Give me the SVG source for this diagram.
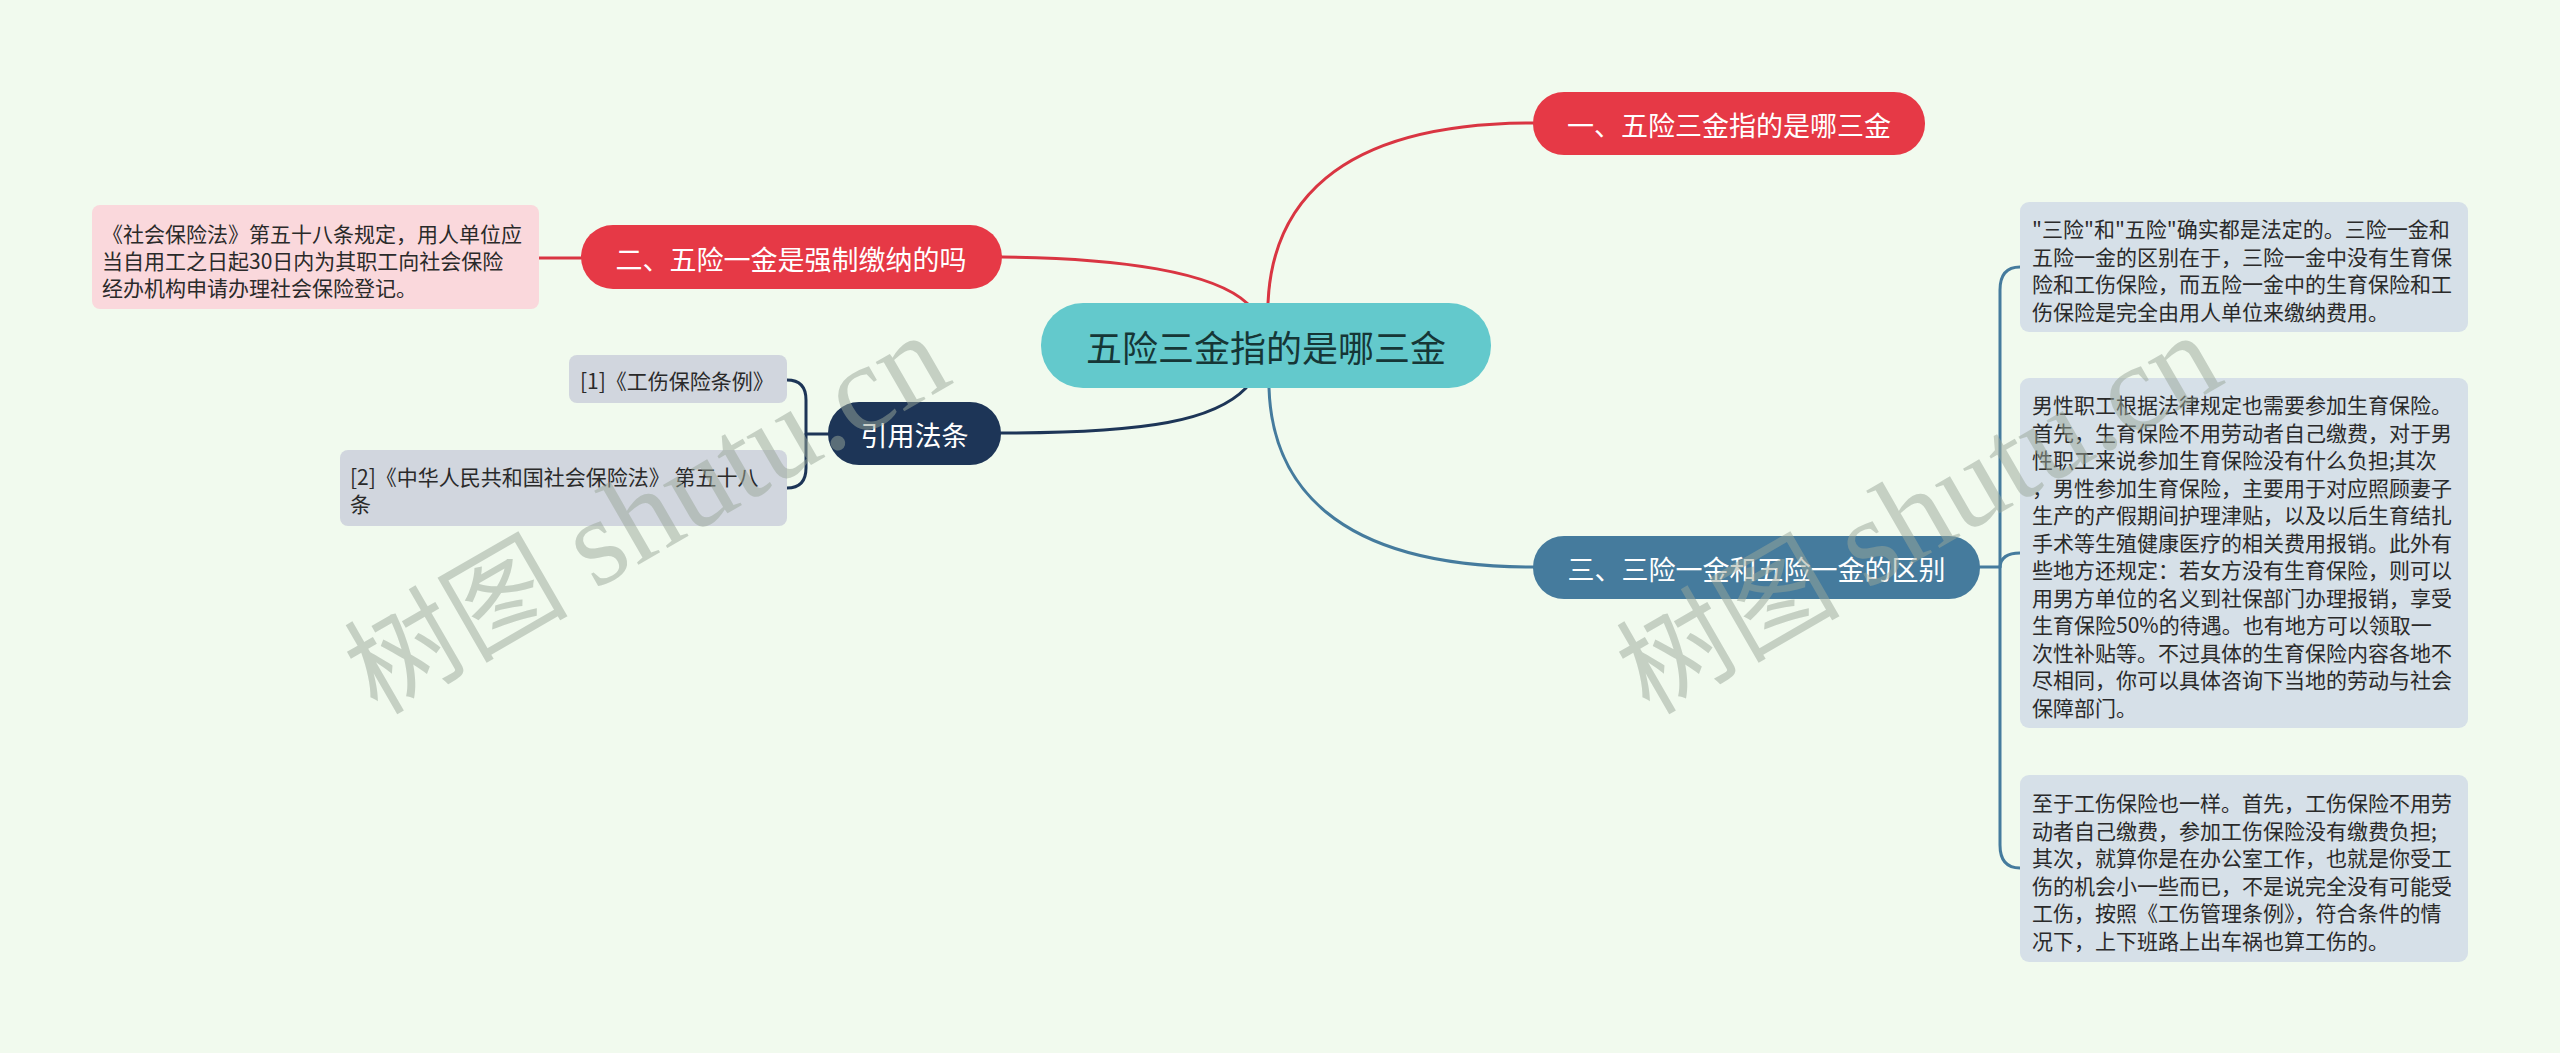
<svg xmlns="http://www.w3.org/2000/svg" width="2560" height="1053" viewBox="0 0 2560 1053">
<style>
text{font-family:"Noto Sans CJK SC","Noto Sans",sans-serif}
.ntxt{fill:#ffffff;font-size:27px;text-anchor:middle;dominant-baseline:central}
.leaf{font-size:21px;fill:#2a2a2a;dominant-baseline:central}
.conn{fill:none;stroke-width:3;stroke-linecap:round}
.red{stroke:#d93542}
.navy{stroke:#1d3557}
.blue{stroke:#457b9d}
.wm{fill:#9aa79a;opacity:0.5}
</style>
<rect x="0" y="0" width="2560" height="1053" fill="#f1faee"/>

<g id="connectors">
<path class="conn red" d="M1268,303 C1272,210 1330,123 1533,123"/>
<path class="conn red" d="M1002,257 C1120,258 1215,272 1248,304"/>
<path class="conn red" d="M539,258 L581,258"/>
<path class="conn navy" d="M1246,388 C1215,420 1150,433 1001,433"/>
<path class="conn navy" d="M787,380 Q806,380 806,400 L806,468 Q806,488 787,488"/>
<path class="conn navy" d="M806,434 L828,434"/>
<path class="conn blue" d="M1269,388 C1272,480 1330,567 1533,567"/>
<path class="conn blue" d="M1980,567 L2000,567"/>
<path class="conn blue" d="M2020,267 Q2000,267 2000,290 L2000,845 Q2000,868 2020,868"/>
<path class="conn blue" d="M2000,567 Q2001,553 2020,553"/>
</g>

<g id="root">
<rect x="1041" y="303" width="450" height="85" rx="42" fill="#63c9cc"/>
<text x="1266" y="346" font-size="36" fill="#163636" text-anchor="middle" dominant-baseline="central">五险三金指的是哪三金</text>
</g>

<g id="n1">
<rect x="1533" y="92" width="392" height="63" rx="31" fill="#e63946"/>
<text class="ntxt" x="1729" y="124">一、五险三金指的是哪三金</text>
</g>

<g id="n2">
<rect x="581" y="225" width="421" height="64" rx="32" fill="#e63946"/>
<text class="ntxt" x="791" y="258">二、五险一金是强制缴纳的吗</text>
</g>

<g id="n2a">
<rect x="92" y="205" width="447" height="104" rx="8" fill="#fad8dc"/>
<text class="leaf" x="102" y="233">《社会保险法》第五十八条规定，用人单位应</text>
<text class="leaf" x="102" y="260">当自用工之日起30日内为其职工向社会保险</text>
<text class="leaf" x="102" y="287">经办机构申请办理社会保险登记。</text>
</g>

<g id="ref">
<rect x="828" y="402" width="173" height="63" rx="31" fill="#1d3557"/>
<text class="ntxt" x="914.5" y="434">引用法条</text>
</g>

<g id="ref1">
<rect x="569" y="355" width="218" height="48" rx="8" fill="#d1d6de"/>
<text class="leaf" x="580" y="380">[1]《工伤保险条例》</text>
</g>

<g id="ref2">
<rect x="340" y="450" width="447" height="76" rx="8" fill="#d1d6de"/>
<text class="leaf" x="350" y="476">[2]《中华人民共和国社会保险法》 第五十八</text>
<text class="leaf" x="350" y="503">条</text>
</g>

<g id="n3">
<rect x="1533" y="536" width="447" height="63" rx="31" fill="#457b9d"/>
<text class="ntxt" x="1756.5" y="568">三、三险一金和五险一金的区别</text>
</g>

<g id="n3a">
<rect x="2020" y="202" width="448" height="130" rx="9" fill="#d6e0e8"/>
<text class="leaf" x="2032" y="228">"三险"和"五险"确实都是法定的。三险一金和</text>
<text class="leaf" x="2032" y="255.5">五险一金的区别在于，三险一金中没有生育保</text>
<text class="leaf" x="2032" y="283">险和工伤保险，而五险一金中的生育保险和工</text>
<text class="leaf" x="2032" y="310.5">伤保险是完全由用人单位来缴纳费用。</text>
</g>

<g id="n3b">
<rect x="2020" y="378" width="448" height="350" rx="9" fill="#d6e0e8"/>
<text class="leaf" x="2032" y="404">男性职工根据法律规定也需要参加生育保险。</text>
<text class="leaf" x="2032" y="431.5">首先，生育保险不用劳动者自己缴费，对于男</text>
<text class="leaf" x="2032" y="459">性职工来说参加生育保险没有什么负担;其次</text>
<text class="leaf" x="2032" y="486.5">，男性参加生育保险，主要用于对应照顾妻子</text>
<text class="leaf" x="2032" y="514">生产的产假期间护理津贴，以及以后生育结扎</text>
<text class="leaf" x="2032" y="541.5">手术等生殖健康医疗的相关费用报销。此外有</text>
<text class="leaf" x="2032" y="569">些地方还规定：若女方没有生育保险，则可以</text>
<text class="leaf" x="2032" y="596.5">用男方单位的名义到社保部门办理报销，享受</text>
<text class="leaf" x="2032" y="624">生育保险50%的待遇。也有地方可以领取一</text>
<text class="leaf" x="2032" y="651.5">次性补贴等。不过具体的生育保险内容各地不</text>
<text class="leaf" x="2032" y="679">尽相同，你可以具体咨询下当地的劳动与社会</text>
<text class="leaf" x="2032" y="706.5">保障部门。</text>
</g>

<g id="n3c">
<rect x="2020" y="775" width="448" height="187" rx="9" fill="#d6e0e8"/>
<text class="leaf" x="2032" y="802">至于工伤保险也一样。首先，工伤保险不用劳</text>
<text class="leaf" x="2032" y="829.5">动者自己缴费，参加工伤保险没有缴费负担;</text>
<text class="leaf" x="2032" y="857">其次，就算你是在办公室工作，也就是你受工</text>
<text class="leaf" x="2032" y="884.5">伤的机会小一些而已，不是说完全没有可能受</text>
<text class="leaf" x="2032" y="912">工伤，按照《工伤管理条例》，符合条件的情</text>
<text class="leaf" x="2032" y="939.5">况下，上下班路上出车祸也算工伤的。</text>
</g>

<g id="watermark1" transform="translate(660,506) rotate(-30)">
<text class="wm" x="-350" y="40" font-size="112">树图</text>
<text class="wm" x="318" y="40" font-size="124" text-anchor="end" style="font-family:'Liberation Serif',serif">shutu.cn</text>
</g>
<g id="watermark2" transform="translate(1932,506) rotate(-30)">
<text class="wm" x="-350" y="40" font-size="112">树图</text>
<text class="wm" x="318" y="40" font-size="124" text-anchor="end" style="font-family:'Liberation Serif',serif">shutu.cn</text>
</g>
</svg>
